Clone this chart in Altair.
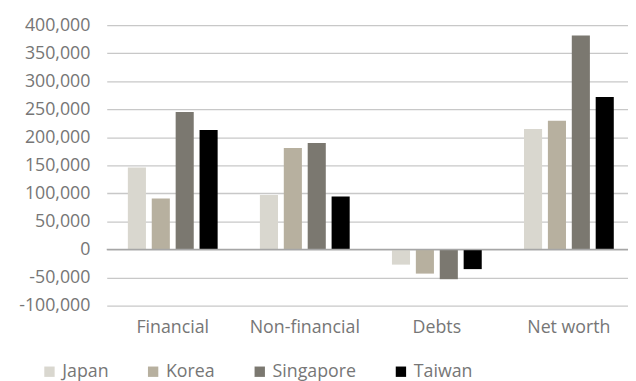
import altair as alt
import pandas as pd

categories = ["Financial", "Non-financial", "Debts", "Net worth"]
countries = ["Japan", "Korea", "Singapore", "Taiwan"]
japan = [146000, 97000, -27000, 215000]
korea = [91000, 181000, -43000, 229500]
singapore = [245000, 190000, -53000, 381500]
taiwan = [213000, 94500, -35000, 272000]
colors = ["#D9D7CF", "#B7B09F", "#7B7870", "#000000"]
tick_values = [-100000, -50000, 0, 50000, 100000, 150000, 200000, 250000, 300000, 350000, 400000]

series = {"Japan": japan, "Korea": korea, "Singapore": singapore, "Taiwan": taiwan}
rows = []
for c in countries:
    for cat, v in zip(categories, series[c]):
        rows.append({"category": cat, "country": c, "value": v})
df = pd.DataFrame(rows)

FONT = "Open Sans"
GRAY = "#767676"

yaxis = alt.Axis(values=tick_values, labelOverlap=False,
                 labelExpr="replace(format(datum.value, ',.0f'), '\u2212', '-')",
                 labelFontSize=18, labelColor=GRAY, labelFont=FONT,
                 domain=False, ticks=False, labelPadding=17,
                 gridColor="#c8c8c8", gridWidth=1.3)
yscale = alt.Scale(domain=[-100000, 400000], nice=False)

bars = alt.Chart(df).mark_bar().encode(
    x=alt.X("category:N", sort=categories, title=None,
            scale=alt.Scale(range=[0, 535], paddingInner=0.32, paddingOuter=0.16),
            axis=alt.Axis(labelAngle=0, labelFontSize=18, labelColor=GRAY, labelFont=FONT,
                          domain=False, ticks=False, labelPadding=13)),
    xOffset=alt.XOffset("country:N", sort=countries,
                        scale=alt.Scale(paddingInner=0.243, paddingOuter=0)),
    y=alt.Y("value:Q", title=None, scale=yscale, axis=yaxis),
    color=alt.Color("country:N", sort=countries,
                    scale=alt.Scale(domain=countries, range=colors),
                    legend=alt.Legend(title=None, orient="none", legendX=-67, legendY=342,
                                      direction="horizontal", columns=4,
                                      symbolType="square", symbolSize=110,
                                      symbolStrokeWidth=0, labelFontSize=18,
                                      labelColor=GRAY, labelFont=FONT,
                                      columnPadding=36, labelOffset=4)),
)

zero = alt.Chart(pd.DataFrame({"value": [0]})).mark_rule(color="#a6a6a6", strokeWidth=1.3).encode(
    y=alt.Y("value:Q", title=None, scale=yscale, axis=yaxis)
)

chart = alt.layer(bars, zero).properties(
    width=528, height=284,
    autosize=alt.AutoSizeParams(type="none"),
    padding={"left": 100, "top": 15, "right": 0, "bottom": 74},
).configure_view(stroke=None)

chart.save("out.html", embed_options={"renderer": "svg", "actions": False})
